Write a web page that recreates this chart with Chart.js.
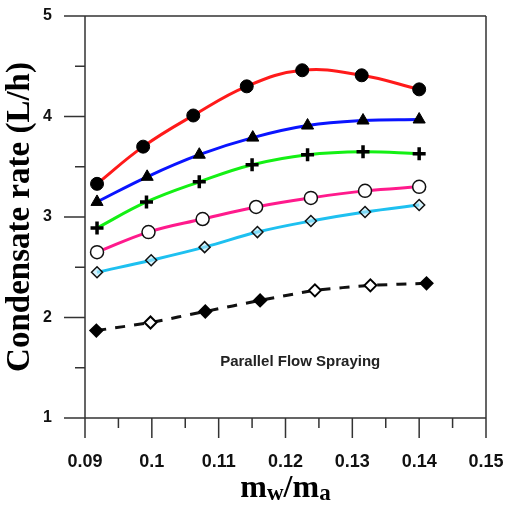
<!DOCTYPE html>
<html>
<head>
<meta charset="utf-8">
<script src="https://cdn.jsdelivr.net/npm/chart.js@4"></script>
<style>
  body { margin: 0; background: #fff; }
  #chart { display: block; }
</style>
</head>
<body>
<canvas id="chart" width="509" height="507"></canvas>
<script>
// data
const redX = [0.0918, 0.0987, 0.1062, 0.1142, 0.1225, 0.1314, 0.1400];
const redY = [3.33, 3.70, 4.01, 4.30, 4.46, 4.41, 4.27];
const blueX = [0.0918, 0.0993, 0.1071, 0.1151, 0.1233, 0.1316, 0.1400];
const blueY = [3.15, 3.40, 3.62, 3.79, 3.91, 3.96, 3.97];
const greenX = [0.0918, 0.0992, 0.1071, 0.1150, 0.1233, 0.1316, 0.1400];
const greenY = [2.89, 3.15, 3.35, 3.52, 3.62, 3.65, 3.63];
const pinkX = [0.0918, 0.0995, 0.1076, 0.1156, 0.1238, 0.1319, 0.1400];
const pinkY = [2.65, 2.85, 2.98, 3.10, 3.19, 3.26, 3.30];
const cyanX = [0.0918, 0.0999, 0.1079, 0.1158, 0.1238, 0.1319, 0.1400];
const cyanY = [2.45, 2.57, 2.70, 2.85, 2.96, 3.05, 3.12];
const blackX = [0.0917, 0.0998, 0.1080, 0.1162, 0.1244, 0.1327, 0.1411];
const blackY = [1.87, 1.95, 2.06, 2.17, 2.27, 2.32, 2.34];

const xTicks = [0.09, 0.10, 0.11, 0.12, 0.13, 0.14, 0.15];
const xTickLabels = ['0.09', '0.1', '0.11', '0.12', '0.13', '0.14', '0.15'];
const xMinorTicks = [0.095, 0.105, 0.115, 0.125, 0.135, 0.145];
const yTicks = [1, 2, 3, 4, 5];
const yTickLabels = ['1', '2', '3', '4', '5'];
const yMinorTicks = [1.5, 2.5, 3.5, 4.5];

const noteText = 'Parallel Flow Spraying';
const noteAt = [0.1222, 1.56];

const pts = (xs, ys) => xs.map((x, i) => ({ x: x, y: ys[i] }));

// frame, tick marks, x title with subscripts, and the note
const framePlugin = {
  id: 'frame',
  afterDraw(chart) {
    const ctx = chart.ctx;
    const a = chart.chartArea;
    const x = chart.scales.x, y = chart.scales.y;
    ctx.save();
    ctx.strokeStyle = '#333';
    ctx.lineWidth = 1.5;
    ctx.beginPath();
    ctx.moveTo(a.left, a.top); ctx.lineTo(a.left, a.bottom);
    ctx.moveTo(a.left, a.bottom); ctx.lineTo(a.right, a.bottom);
    ctx.moveTo(a.left, a.top); ctx.lineTo(a.right, a.top);
    ctx.moveTo(a.right, a.top); ctx.lineTo(a.right, a.bottom);
    yTicks.forEach(v => { const p = y.getPixelForValue(v); ctx.moveTo(a.left - 21, p); ctx.lineTo(a.left, p); });
    yMinorTicks.forEach(v => { const p = y.getPixelForValue(v); ctx.moveTo(a.left - 10, p); ctx.lineTo(a.left, p); });
    xTicks.forEach(v => { const p = x.getPixelForValue(v); ctx.moveTo(p, a.bottom); ctx.lineTo(p, a.bottom + 20); });
    xMinorTicks.forEach(v => { const p = x.getPixelForValue(v); ctx.moveTo(p, a.bottom); ctx.lineTo(p, a.bottom + 10); });
    ctx.stroke();

    // note inside the plot
    ctx.fillStyle = '#222';
    ctx.font = 'bold 15px "Liberation Sans", Arial, sans-serif';
    ctx.textAlign = 'center';
    ctx.textBaseline = 'middle';
    ctx.fillText(noteText, x.getPixelForValue(noteAt[0]), y.getPixelForValue(noteAt[1]));

    // x title: m_w / m_a
    const big = 'bold 32px "Liberation Serif", "Times New Roman", serif';
    const small = 'bold 23px "Liberation Serif", "Times New Roman", serif';
    const parts = [['m', big, 0], ['w', small, 3], ['/', big, 0], ['m', big, 0], ['a', small, 3]];
    let total = 0;
    parts.forEach(p => { ctx.font = p[1]; total += ctx.measureText(p[0]).width; });
    let cx = (a.left + a.right) / 2 - total / 2;
    const base = 497;
    ctx.fillStyle = '#000';
    ctx.textAlign = 'left';
    ctx.textBaseline = 'alphabetic';
    parts.forEach(p => {
      ctx.font = p[1];
      ctx.fillText(p[0], cx, base + p[2]);
      cx += ctx.measureText(p[0]).width;
    });
    ctx.restore();
  }
};

// tick marks themselves come from the plugin; the library only spaces the labels
const hiddenGrid = { display: true, drawOnChartArea: false, drawTicks: true, tickLength: 33, color: 'rgba(0,0,0,0)', tickColor: 'rgba(0,0,0,0)' };

new Chart(document.querySelector('#chart'), {
  type: 'scatter',
  data: {
    datasets: [
      {
        data: pts(redX, redY), showLine: true, borderColor: '#ff1a1a', borderWidth: 3, tension: 0.4,
        pointStyle: 'circle', pointRadius: 6.5, pointBackgroundColor: '#000', pointBorderColor: '#000', pointBorderWidth: 1
      },
      {
        data: pts(blueX, blueY), showLine: true, borderColor: '#0a14ff', borderWidth: 3, tension: 0.4,
        pointStyle: 'triangle', pointRadius: 7, pointBackgroundColor: '#000', pointBorderColor: '#000', pointBorderWidth: 1
      },
      {
        data: pts(greenX, greenY), showLine: true, borderColor: '#14f014', borderWidth: 3, tension: 0.4,
        pointStyle: 'cross', pointRadius: 6.5, pointBackgroundColor: '#000', pointBorderColor: '#000', pointBorderWidth: 3.5
      },
      {
        data: pts(pinkX, pinkY), showLine: true, borderColor: '#ff1a8c', borderWidth: 3, tension: 0.4,
        pointStyle: 'circle', pointRadius: 6.5, pointBackgroundColor: '#fff', pointBorderColor: '#111', pointBorderWidth: 1.5
      },
      {
        data: pts(cyanX, cyanY), showLine: true, borderColor: '#1ec0f0', borderWidth: 3, tension: 0.4,
        pointStyle: 'rectRot', pointRadius: 5.5, pointBackgroundColor: 'rgba(190,235,250,0.6)', pointBorderColor: '#111', pointBorderWidth: 1.5
      },
      {
        data: pts(blackX, blackY), showLine: true, borderColor: '#111', borderWidth: 3, borderDash: [10, 9], tension: 0.15,
        pointStyle: 'rectRot', pointRadius: 6,
        pointBackgroundColor: ['#000', '#fff', '#000', '#000', '#fff', '#fff', '#000'],
        pointBorderColor: '#000', pointBorderWidth: 2
      }
    ]
  },
  options: {
    responsive: false,
    animation: false,
    layout: { padding: { top: 16, right: 23, left: 0, bottom: 0 } },
    plugins: { legend: { display: false }, tooltip: { enabled: false } },
    scales: {
      x: {
        type: 'linear', min: 0.09, max: 0.15,
        grid: hiddenGrid,
        border: { display: false },
        afterBuildTicks: s => { s.ticks = xTicks.map(v => ({ value: v })); },
        afterFit: s => { s.height = 89; },
        ticks: {
          padding: 0, color: '#111', maxRotation: 0, autoSkip: false,
          font: { family: '"Liberation Sans", Arial, sans-serif', size: 18, weight: 'bold' },
          callback: (v, i) => xTickLabels[i]
        }
      },
      y: {
        min: 1, max: 5,
        grid: hiddenGrid,
        border: { display: false },
        afterBuildTicks: s => { s.ticks = yTicks.map(v => ({ value: v })); },
        afterFit: s => { s.width = 85; },
        title: {
          display: true, text: 'Condensate rate (L/h)', color: '#000',
          font: { family: '"Liberation Serif", "Times New Roman", serif', size: 33, weight: 'bold' },
          padding: { top: 1, bottom: 0 }
        },
        ticks: {
          padding: 0, color: '#111', autoSkip: false,
          font: { family: '"Liberation Sans", Arial, sans-serif', size: 16, weight: 'bold' },
          callback: (v, i) => yTickLabels[i]
        }
      }
    }
  },
  plugins: [framePlugin]
});
</script>
</body>
</html>
